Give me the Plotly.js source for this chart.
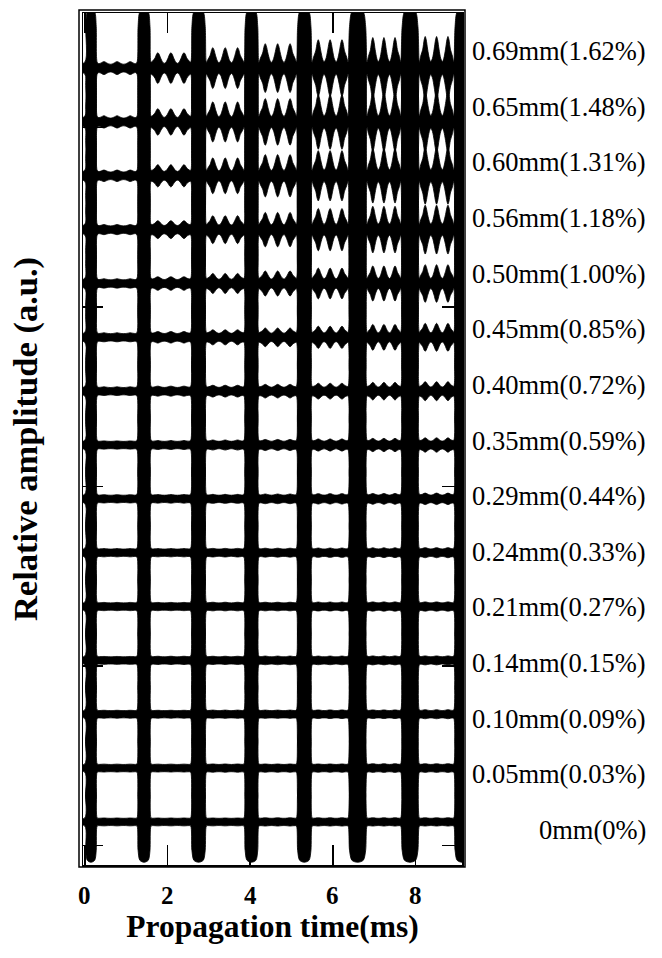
<!DOCTYPE html>
<html><head><meta charset="utf-8">
<script src="https://cdn.plot.ly/plotly-3.0.1.min.js"></script>
<style>html,body{margin:0;padding:0;background:#fff;} #chart{width:662px;height:958px;}</style>
</head><body><div id="chart"></div>
<script>
// ---- data (index 0 = bottom trace) ----
const strainLabels = ['0mm(0%)','0.05mm(0.03%)','0.10mm(0.09%)','0.14mm(0.15%)','0.21mm(0.27%)',
  '0.24mm(0.33%)','0.29mm(0.44%)','0.35mm(0.59%)','0.40mm(0.72%)','0.45mm(0.85%)',
  '0.50mm(1.00%)','0.56mm(1.18%)','0.60mm(1.31%)','0.65mm(1.48%)','0.69mm(1.62%)'];
const traceOffset = [0, 3, 6, 9, 12, 15, 18, 21, 24, 27, 30, 33, 36, 39, 42];
// burst (arrival) centres in ms and their widths in ms
const burstTimes  = [0.145, 1.43, 2.75, 4.03, 5.31, 6.60, 7.87, 9.13];
const burstWidths = [0.30, 0.34, 0.38, 0.36, 0.38, 0.46, 0.45, 0.40];
// burst peak amplitude of each trace (a.u.)
const burstAmp = [2.25, 2.3, 2.35, 2.4, 2.45, 2.5, 2.55, 2.6, 2.65, 2.75, 2.85, 2.95, 3.05, 3.15, 3.3];
// amplitude of the ripples between successive bursts (a.u.), 7 gaps per trace
const rippleAmp = [
  [0.02,0.02,0.02,0.03,0.03,0.03,0.03],
  [0.02,0.02,0.03,0.03,0.03,0.04,0.04],
  [0.02,0.02,0.03,0.03,0.04,0.04,0.05],
  [0.02,0.03,0.03,0.04,0.04,0.05,0.05],
  [0.03,0.03,0.04,0.04,0.05,0.06,0.06],
  [0.03,0.03,0.04,0.05,0.06,0.07,0.08],
  [0.03,0.04,0.05,0.07,0.09,0.10,0.12],
  [0.03,0.05,0.08,0.11,0.14,0.17,0.20],
  [0.04,0.08,0.13,0.18,0.24,0.29,0.33],
  [0.05,0.12,0.22,0.32,0.42,0.52,0.58],
  [0.06,0.18,0.36,0.50,0.66,0.78,0.85],
  [0.08,0.30,0.58,0.76,0.98,1.10,1.16],
  [0.12,0.42,0.80,0.98,1.20,1.32,1.38],
  [0.14,0.54,0.92,1.10,1.32,1.44,1.50],
  [0.16,0.66,0.94,1.16,1.38,1.50,1.56]
];
const xTickVals = [0, 2, 4, 6, 8];
// envelope outlines (relative position, relative height)
const burstShapeU = [-1, -0.85, -0.6, 0, 0.6, 0.85, 1];
const burstShapeV = [0.1, 0.7, 0.95, 1, 0.95, 0.7, 0.1];
const rippleShapeU = [0.04,0.1,0.14,0.17,0.2,0.24,0.29,0.33,0.38,0.43,0.47,0.5,0.53,0.57,0.62,0.67,0.71,0.76,0.8,0.83,0.86,0.9,0.96];
const rippleShapeV = [0.3,0.55,0.88,1,0.88,0.55,0.22,0.1,0.22,0.55,0.88,1,0.88,0.55,0.22,0.1,0.22,0.55,0.88,1,0.88,0.55,0.3];
const bandHalf = 0.2;

function envelope(i) {
  const ts = [-0.3], as = [bandHalf];
  for (let k = 0; k < burstTimes.length; k++) {
    const c = burstTimes[k], h = burstWidths[k] / 2;
    for (let j = 0; j < burstShapeU.length; j++) {
      ts.push(c + burstShapeU[j] * h);
      as.push(Math.max(bandHalf, burstShapeV[j] * burstAmp[i]));
    }
    if (k < burstTimes.length - 1) {
      const tA = c + h, tB = burstTimes[k + 1] - burstWidths[k + 1] / 2;
      for (let j = 0; j < rippleShapeU.length; j++) {
        ts.push(tA + rippleShapeU[j] * (tB - tA));
        as.push(bandHalf + rippleShapeV[j] * rippleAmp[i][k]);
      }
    }
  }
  ts.push(9.6); as.push(bandHalf);
  return {ts, as};
}

const traces = traceOffset.map((off, i) => {
  const e = envelope(i);
  const x = e.ts.concat(e.ts.slice().reverse());
  const y = e.as.map(a => off + a).concat(e.as.slice().reverse().map(a => off - a));
  return {type: 'scatter', mode: 'lines', x, y, fill: 'toself', fillcolor: '#000',
    line: {color: '#000', width: 0.8, shape: 'spline', smoothing: 0.8}, hoverinfo: 'skip', showlegend: false};
});

const PL = 83, PR = 462, PT = 13, PB = 865, W = 662, H = 958;
const pw = PR - PL, ph = PB - PT;
const serif = 'Liberation Serif, Times New Roman, serif';

const annotations = strainLabels.map((s, k) => ({
  text: s, xref: 'paper', yref: 'y', x: (648 - PL) / pw, y: -0.45 + 3.1 * k,
  xanchor: 'right', yanchor: 'middle', showarrow: false,
  font: {family: serif, size: 26.5, color: '#000'}
})).concat(xTickVals.map(v => ({
  text: '<b>' + v + '</b>', xref: 'x', yref: 'paper', x: v, y: -30 / ph,
  xanchor: 'center', yanchor: 'middle', showarrow: false,
  font: {family: serif, size: 25, color: '#000'}
})));

const layout = {
  width: W, height: H,
  margin: {l: PL, r: W - PR, t: PT, b: H - PB, pad: 0},
  paper_bgcolor: '#fff', plot_bgcolor: '#fff',
  showlegend: false,
  xaxis: {
    range: [-0.048, 9.128], tickmode: 'array', tickvals: xTickVals, showticklabels: false,
    ticks: 'inside', ticklen: 20, tickwidth: 1.5, tickcolor: '#000',
    showline: true, linecolor: '#000', linewidth: 1.5, mirror: 'ticks',
    showgrid: false, zeroline: false,
    title: {text: '<b>Propagation time(ms)</b>', standoff: 49,
      font: {family: serif, size: 31.5, color: '#000'}}
  },
  yaxis: {
    range: [-2.4, 45.07], tick0: -1.3, dtick: 10, showticklabels: false,
    ticks: 'inside', ticklen: 20, tickwidth: 1.5, tickcolor: '#000',
    showline: true, linecolor: '#000', linewidth: 1.5, mirror: 'ticks',
    showgrid: false, zeroline: false,
    title: {text: '<b>Relative amplitude (a.u.)</b>', standoff: 33,
      font: {family: serif, size: 34.5, color: '#000'}}
  },
  shapes: [{type: 'rect', xref: 'paper', yref: 'paper', layer: 'above',
    x0: -4 / pw, x1: 1 + 3 / pw, y0: -2 / ph, y1: 1 + 3 / ph,
    line: {color: '#000', width: 1.5}}],
  annotations
};

Plotly.newPlot('chart', traces, layout, {displayModeBar: false, staticPlot: true});
</script>
</body></html>
